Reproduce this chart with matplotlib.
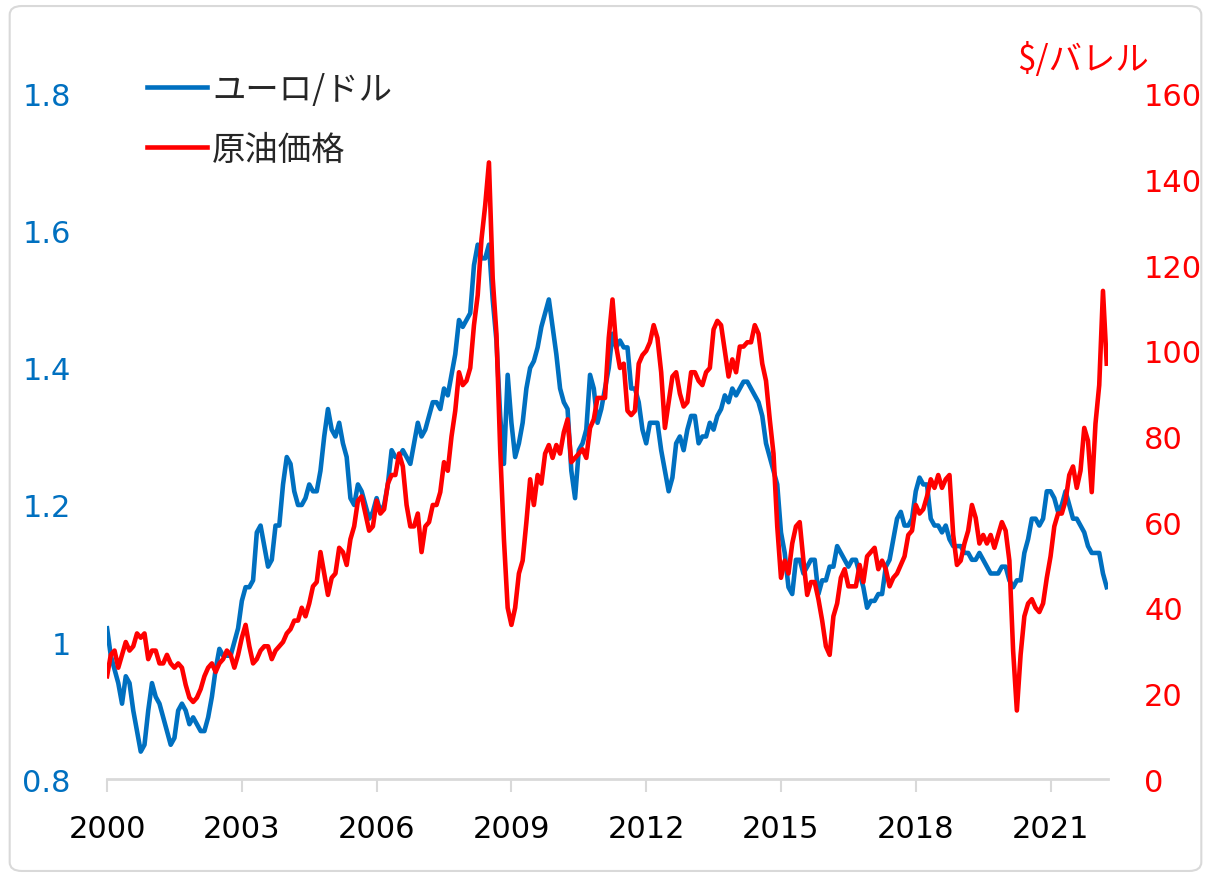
import numpy as np
import matplotlib
matplotlib.use('Agg')
import matplotlib.pyplot as plt
from matplotlib.patches import FancyBboxPatch
from matplotlib.lines import Line2D

# ユーロ/ドル（月次、2000年1月～2022年4月）
eurusd = [
    1.02, 0.98, 0.96, 0.94, 0.91, 0.95, 0.94, 0.90, 0.87, 0.84, 0.85, 0.90,   # 2000
    0.94, 0.92, 0.91, 0.89, 0.87, 0.85, 0.86, 0.90, 0.91, 0.90, 0.88, 0.89,   # 2001
    0.88, 0.87, 0.87, 0.89, 0.92, 0.96, 0.99, 0.98, 0.98, 0.98, 1.00, 1.02,   # 2002
    1.06, 1.08, 1.08, 1.09, 1.16, 1.17, 1.14, 1.11, 1.12, 1.17, 1.17, 1.23,   # 2003
    1.27, 1.26, 1.22, 1.20, 1.20, 1.21, 1.23, 1.22, 1.22, 1.25, 1.30, 1.34,   # 2004
    1.31, 1.30, 1.32, 1.29, 1.27, 1.21, 1.20, 1.23, 1.22, 1.20, 1.18, 1.19,   # 2005
    1.21, 1.19, 1.20, 1.23, 1.28, 1.27, 1.27, 1.28, 1.27, 1.26, 1.29, 1.32,   # 2006
    1.30, 1.31, 1.33, 1.35, 1.35, 1.34, 1.37, 1.36, 1.39, 1.42, 1.47, 1.46,   # 2007
    1.47, 1.48, 1.55, 1.58, 1.56, 1.56, 1.58, 1.50, 1.44, 1.33, 1.26, 1.39,   # 2008
    1.32, 1.27, 1.29, 1.32, 1.37, 1.40, 1.41, 1.43, 1.46, 1.48, 1.50, 1.46,   # 2009
    1.42, 1.37, 1.35, 1.34, 1.25, 1.21, 1.28, 1.29, 1.31, 1.39, 1.37, 1.32,   # 2010
    1.34, 1.37, 1.40, 1.45, 1.43, 1.44, 1.43, 1.43, 1.37, 1.37, 1.35, 1.31,   # 2011
    1.29, 1.32, 1.32, 1.32, 1.28, 1.25, 1.22, 1.24, 1.29, 1.30, 1.28, 1.31,   # 2012
    1.33, 1.33, 1.29, 1.30, 1.30, 1.32, 1.31, 1.33, 1.34, 1.36, 1.35, 1.37,   # 2013
    1.36, 1.37, 1.38, 1.38, 1.37, 1.36, 1.35, 1.33, 1.29, 1.27, 1.25, 1.23,   # 2014
    1.16, 1.13, 1.08, 1.07, 1.12, 1.12, 1.10, 1.11, 1.12, 1.12, 1.07, 1.09,   # 2015
    1.09, 1.11, 1.11, 1.14, 1.13, 1.12, 1.11, 1.12, 1.12, 1.10, 1.08, 1.05,   # 2016
    1.06, 1.06, 1.07, 1.07, 1.11, 1.12, 1.15, 1.18, 1.19, 1.17, 1.17, 1.18,   # 2017
    1.22, 1.24, 1.23, 1.23, 1.18, 1.17, 1.17, 1.16, 1.17, 1.15, 1.14, 1.14,   # 2018
    1.14, 1.13, 1.13, 1.12, 1.12, 1.13, 1.12, 1.11, 1.10, 1.10, 1.10, 1.11,   # 2019
    1.11, 1.09, 1.08, 1.09, 1.09, 1.13, 1.15, 1.18, 1.18, 1.17, 1.18, 1.22,   # 2020
    1.22, 1.21, 1.19, 1.20, 1.22, 1.20, 1.18, 1.18, 1.17, 1.16, 1.14, 1.13,   # 2021
    1.13, 1.13, 1.10, 1.08,                                                   # 2022
]

# 原油価格（$/バレル、月次）
oil = [
    24, 29, 30, 26, 29, 32, 30, 31, 34, 33, 34, 28,            # 2000
    30, 30, 27, 27, 29, 27, 26, 27, 26, 22, 19, 18,            # 2001
    19, 21, 24, 26, 27, 25, 27, 28, 30, 29, 26, 29,            # 2002
    33, 36, 31, 27, 28, 30, 31, 31, 28, 30, 31, 32,            # 2003
    34, 35, 37, 37, 40, 38, 41, 45, 46, 53, 48, 43,            # 2004
    47, 48, 54, 53, 50, 56, 59, 65, 66, 62, 58, 59,            # 2005
    65, 62, 63, 69, 71, 71, 76, 73, 64, 59, 59, 62,            # 2006
    53, 59, 60, 64, 64, 67, 74, 72, 80, 86, 95, 92,            # 2007
    93, 96, 106, 113, 126, 134, 144, 117, 104, 77, 56, 40,     # 2008
    36, 40, 48, 51, 60, 70, 64, 71, 69, 76, 78, 75,            # 2009
    78, 76, 81, 84, 74, 75, 76, 77, 75, 82, 84, 89,            # 2010
    89, 89, 103, 112, 101, 96, 97, 86, 85, 86, 97, 99,         # 2011
    100, 102, 106, 103, 95, 82, 88, 94, 95, 90, 87, 88,        # 2012
    95, 95, 93, 92, 95, 96, 105, 107, 106, 100, 94, 98,        # 2013
    95, 101, 101, 102, 102, 106, 104, 97, 93, 84, 76, 59,      # 2014
    47, 51, 48, 55, 59, 60, 51, 43, 46, 46, 42, 37,            # 2015
    31, 29, 38, 41, 47, 49, 45, 45, 45, 50, 46, 52,            # 2016
    53, 54, 49, 51, 49, 45, 47, 48, 50, 52, 57, 58,            # 2017
    64, 62, 63, 66, 70, 68, 71, 68, 70, 71, 57, 50,            # 2018
    51, 55, 58, 64, 61, 55, 57, 55, 57, 54, 57, 60,            # 2019
    58, 51, 30, 16, 29, 38, 41, 42, 40, 39, 41, 47,            # 2020
    52, 59, 62, 62, 65, 71, 73, 68, 72, 82, 79, 67,            # 2021
    83, 92, 114, 97,                                           # 2022
]

year_ticks = [2000, 2003, 2006, 2009, 2012, 2015, 2018, 2021]

x = 2000 + np.arange(len(eurusd)) / 12

blue = '#0070C0'
red = '#FF0000'
gray = '#D9D9D9'
jp = ['Noto Sans CJK JP', 'DejaVu Sans']

fig = plt.figure(figsize=(12.11, 8.79), dpi=100)
ax = fig.add_axes([0.0884, 0.1126, 0.8266, 0.7794])
ax2 = ax.twinx()

ax.plot(x, eurusd, color=blue, lw=3.3)
ax2.plot(x, oil, color=red, lw=3.3)

ax.set_xlim(2000, x[-1] + 0.03)
ax.set_ylim(0.8, 1.8)
ax2.set_ylim(0, 160)

ax.set_yticks([0.8, 1.0, 1.2, 1.4, 1.6, 1.8])
ax.set_yticklabels(['0.8', '1', '1.2', '1.4', '1.6', '1.8'])
ax2.set_yticks(range(0, 161, 20))
ax.set_xticks(year_ticks)
ax.set_xticklabels([str(y) for y in year_ticks])

ax.tick_params(axis='y', length=0, pad=26, labelsize=22, labelcolor=blue)
ax2.tick_params(axis='y', length=0, pad=26, labelsize=22, labelcolor=red)
ax.tick_params(axis='x', length=9, width=1.5, color=gray, pad=16,
               labelsize=22, labelcolor='black')

for a in (ax, ax2):
    for s in ['top', 'left', 'right']:
        a.spines[s].set_visible(False)
ax2.spines['bottom'].set_visible(False)
ax.spines['bottom'].set_color(gray)
ax.spines['bottom'].set_linewidth(2)

# 凡例
handles = [Line2D([], [], color=blue, lw=3.3), Line2D([], [], color=red, lw=3.3)]
leg = ax.legend(handles, ['ユーロ/ドル', '原油価格'], loc='upper left',
                bbox_to_anchor=(0.010, 1.076), frameon=False,
                prop={'family': jp, 'size': 24}, handlelength=1.8,
                handletextpad=0.15, labelspacing=0.75)
for t in leg.get_texts():
    t.set_color('#262626')

fig.text(1083 / 1211, 1 - 60 / 879, '$/バレル', color=red, fontsize=24,
         family=jp, ha='center', va='center')

# 外枠
fig.patches.append(FancyBboxPatch((0.008, 0.008), 0.984, 0.984,
                                  boxstyle='round,pad=0,rounding_size=0.01',
                                  transform=fig.transFigure, fill=False,
                                  edgecolor=gray, lw=1.5))

fig.savefig('out.png', dpi=100, facecolor='white')
